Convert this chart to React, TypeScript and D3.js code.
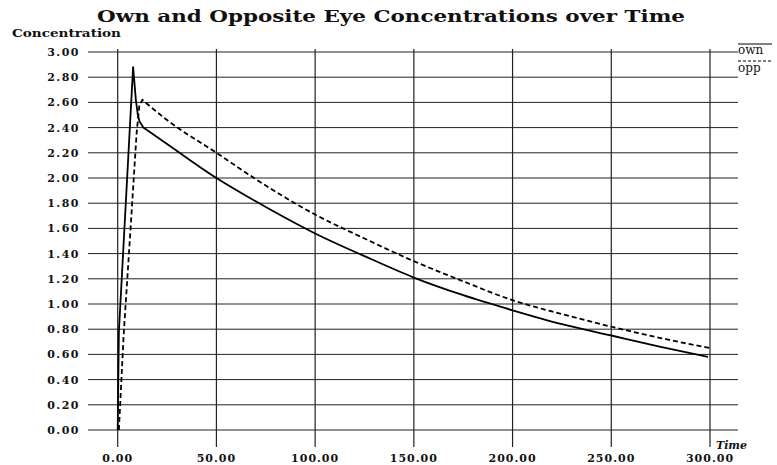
import * as d3 from "d3";

// values
const ownTime = [0, 0.6, 7.8, 9.2, 10.2, 11, 13, 25, 50, 75, 100, 125, 150, 175, 200, 225, 250, 275, 299];
const ownConc = [0, 0.78, 2.88, 2.62, 2.5, 2.45, 2.4, 2.27, 2.0, 1.77, 1.56, 1.38, 1.21, 1.07, 0.95, 0.84, 0.75, 0.66, 0.58];

const oppTime = [0.6, 3, 6.6, 9.6, 11, 12.5, 25, 50, 75, 100, 125, 150, 175, 200, 225, 250, 275, 300];
const oppConc = [0, 0.75, 1.62, 2.36, 2.58, 2.62, 2.46, 2.2, 1.94, 1.71, 1.52, 1.34, 1.18, 1.03, 0.92, 0.82, 0.73, 0.65];

const xTicks = [0, 50, 100, 150, 200, 250, 300];
const yTicks = [0, 0.2, 0.4, 0.6, 0.8, 1.0, 1.2, 1.4, 1.6, 1.8, 2.0, 2.2, 2.4, 2.6, 2.8, 3.0];

const W = 777;
const H = 465;
const serif = "'DejaVu Serif', serif";

type Pt = [number, number];

export default function App() {
  const x = d3.scaleLinear().domain([0, 300]).range([117.7, 710]);
  const y = d3.scaleLinear().domain([0, 3]).range([430, 52]);

  const straight = d3.line<Pt>().x((d) => x(d[0])).y((d) => y(d[1]));
  const smooth = d3.line<Pt>().x((d) => x(d[0])).y((d) => y(d[1])).curve(d3.curveMonotoneX);

  // injection spike drawn straight, the slow decay (from `from` on) drawn smooth
  const build = (ts: number[], vs: number[], from: number) => {
    const pts = ts.map((t, i) => [t, vs[i]] as Pt);
    const k = ts.findIndex((t) => t >= from);
    const head = straight(pts.slice(0, k + 1)) ?? "";
    const tail = (smooth(pts.slice(k)) ?? "").replace(/^M[^LC]*/, "");
    return head + tail;
  };

  return (
    <svg width={W} height={H} style={{ position: "absolute", left: 0, top: 0, background: "#fff" }}>
      <text x={391} y={22} textAnchor="middle" fontFamily={serif} fontWeight="bold" fontSize={17}
        textLength={588} lengthAdjust="spacingAndGlyphs" fill="#111">
        Own and Opposite Eye Concentrations over Time
      </text>
      <text x={12} y={37} fontFamily={serif} fontWeight="bold" fontSize={10.5}
        textLength={109} lengthAdjust="spacingAndGlyphs" fill="#111">
        Concentration
      </text>

      {/* grid */}
      {yTicks.map((v) => (
        <line key={`h${v}`} x1={88} x2={738} y1={y(v)} y2={y(v)} stroke="#222" strokeWidth={1} />
      ))}
      {xTicks.map((v) => (
        <line key={`v${v}`} x1={x(v)} x2={x(v)} y1={49} y2={447} stroke="#222" strokeWidth={1.2} />
      ))}

      {/* tick labels */}
      {yTicks.map((v) => (
        <text key={`yl${v}`} x={80} y={y(v) + 4} textAnchor="end" fontFamily={serif} fontWeight="bold"
          fontSize={11} letterSpacing={1.5} fill="#111">
          {v.toFixed(2)}
        </text>
      ))}
      {xTicks.map((v) => (
        <text key={`xl${v}`} x={x(v)} y={462} textAnchor="middle" fontFamily={serif} fontWeight="bold"
          fontSize={11} letterSpacing={1} fill="#111">
          {v.toFixed(2)}
        </text>
      ))}
      <text x={716} y={449} fontFamily={serif} fontWeight="bold" fontStyle="italic" fontSize={11} fill="#111">
        Time
      </text>

      {/* series */}
      <path d={build(ownTime, ownConc, 13)} fill="none" stroke="#000" strokeWidth={1.8} strokeLinejoin="round" />
      <path d={build(oppTime, oppConc, 12.5)} fill="none" stroke="#000" strokeWidth={1.8} strokeDasharray="5,3" />

      {/* legend */}
      <line x1={738} x2={772} y1={44} y2={44} stroke="#000" strokeWidth={1.2} />
      <text x={738} y={54} fontFamily={serif} fontSize={12} fill="#111">own</text>
      <line x1={738} x2={772} y1={61} y2={61} stroke="#000" strokeWidth={1.2} strokeDasharray="3,2" />
      <text x={738} y={72} fontFamily={serif} fontSize={12} fill="#111">opp</text>
    </svg>
  );
}
